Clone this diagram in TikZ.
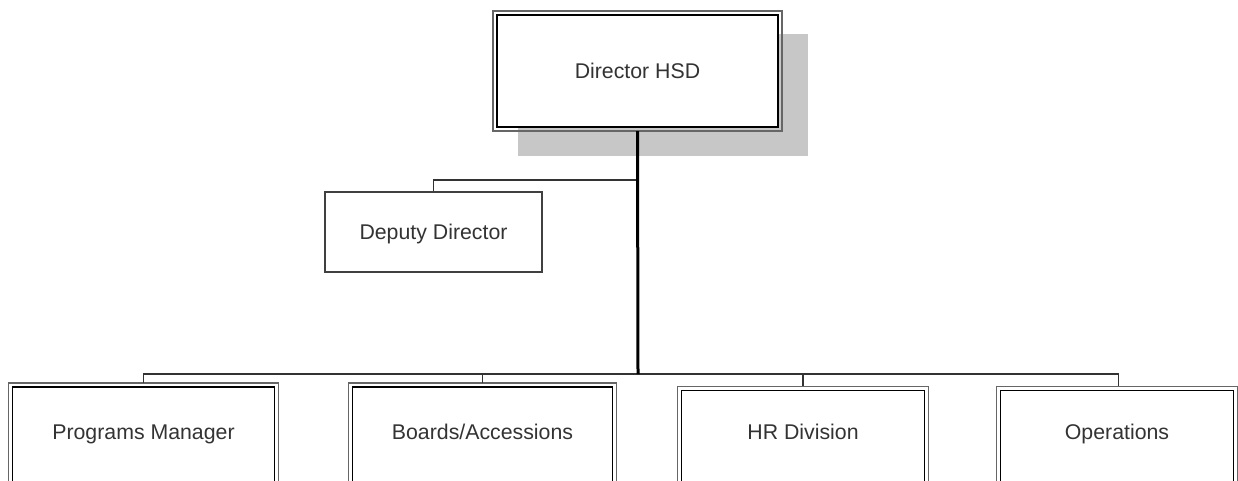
\documentclass[tikz,border=0pt]{standalone}
\usepackage{fontspec}
\setmainfont{Liberation Sans}
\begin{document}
\begin{tikzpicture}[x=1pt,y=-1pt,
  boxtext/.style={inner sep=0pt, text=black!80,
    font=\fontsize{21.3}{25}\selectfont, text height=15pt, text depth=0pt},
  unit/.style={boxtext, draw=black, line width=1.4pt, fill=white,
    append after command={
      \pgfextra{\draw[black!60, line width=1.5pt]
        ([shift={(-3.5pt,3.5pt)}]\tikzlastnode.north west) rectangle
        ([shift={(3.5pt,-3.5pt)}]\tikzlastnode.south east);}}},
  lowunit/.style={unit, text depth=8pt},
  plainunit/.style={boxtext, draw=black!75, line width=1.4pt, fill=white},
  trunk/.style={line width=3pt, black},
  branch/.style={line width=1.5pt, black!80}]
\clip (0,0) rectangle (1238,480);
\fill[white] (0,0) rectangle (1238,480);

% drop shadow behind the top box
\fill[black!22] (518,34) rectangle (808,156);

% boxes
\node[unit, minimum width=281pt, minimum height=112pt] (dir) at (637.5,71) {Director HSD};
\node[plainunit, minimum width=217pt, minimum height=80pt] (dep) at (433.5,232) {Deputy Director};
\node[lowunit, minimum width=262pt, minimum height=98pt] (prog) at (143.5,436) {Programs Manager};
\node[lowunit, minimum width=260pt, minimum height=98pt] (board) at (482.5,436) {Boards/Accessions};
\node[lowunit, minimum width=243pt, minimum height=91pt] (hr) at (803,436) {HR Division};
\node[lowunit, minimum width=233pt, minimum height=91pt] (ops) at (1117,436) {Operations};

% junction points on the trunk
\coordinate (depjoin) at (638,180);
\coordinate (bar) at (638,374);

% connectors
\draw[branch] (dep.north) |- (depjoin);
\draw[branch] (prog.north |- bar) -- ([yshift=3.5pt]prog.north);
\draw[branch] (board.north |- bar) -- ([yshift=3.5pt]board.north);
\draw[branch] (hr.north |- bar) -- ([yshift=3.5pt]hr.north);
\draw[branch] ([xshift=1.5pt]ops.north |- bar) -- ([xshift=1.5pt,yshift=3.5pt]ops.north);
\draw[branch] ([xshift=-0.75pt]prog.north |- bar) -- ([xshift=2.25pt]ops.north |- bar);
\draw[trunk] ([yshift=-3.5pt]dir.south) -- (bar);
\end{tikzpicture}
\end{document}
